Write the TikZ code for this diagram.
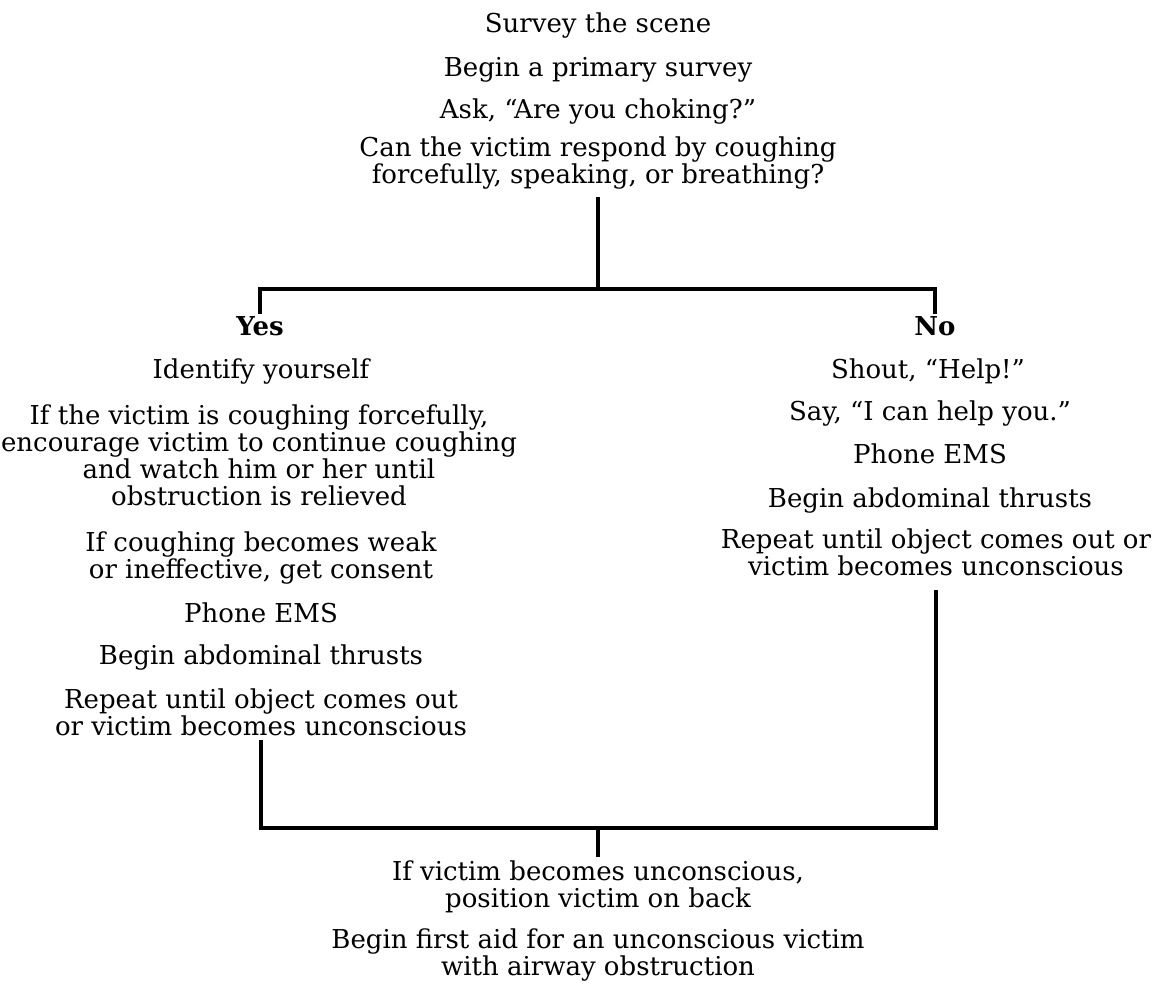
\documentclass[tikz,border=0pt]{standalone}
\usepackage{fontspec}
\setmainfont{DejaVu Serif}
\begin{document}
\begin{tikzpicture}[x=1pt,y=-1pt,
  txt/.style={font=\fontsize{26}{26.8}\selectfont, align=center, inner sep=0pt, anchor=base},
  lbl/.style={txt, font=\fontsize{26}{26.8}\selectfont\bfseries},
  conn/.style={line width=3.2pt, line cap=rect}]
\useasboundingbox (0,0) rectangle (1173,989);
% top (multi-line nodes are placed at the baseline of their last line)
\node[txt] (s1) at (598,32) {Survey the scene};
\node[txt] (s2) at (598,76) {Begin a primary survey};
\node[txt] (s3) at (598,118) {Ask, ``Are you choking?''};
\node[txt] (q)  at (598,183) {Can the victim respond by coughing\\forcefully, speaking, or breathing?};
% yes branch
\node[lbl] (yes) at (260,335) {Yes};
\node[txt] (y1) at (261,378) {Identify yourself};
\node[txt] (y2) at (259,505) {If the victim is coughing forcefully,\\encourage victim to continue coughing\\and watch him or her until\\obstruction is relieved};
\node[txt] (y3) at (261,578) {If coughing becomes weak\\or ineffective, get consent};
\node[txt] (y4) at (261,622) {Phone EMS};
\node[txt] (y5) at (261,664) {Begin abdominal thrusts};
\node[txt] (y6) at (261,735) {Repeat until object comes out\\or victim becomes unconscious};
% no branch
\node[lbl] (no) at (935,335) {No};
\node[txt] (n1) at (928,378) {Shout, ``Help!''};
\node[txt] (n2) at (930,420) {Say, ``I can help you.''};
\node[txt] (n3) at (930,463) {Phone EMS};
\node[txt] (n4) at (930,507) {Begin abdominal thrusts};
\node[txt] (n5) at (936,575) {Repeat until object comes out or\\victim becomes unconscious};
% bottom
\node[txt] (b1) at (598,907) {If victim becomes unconscious,\\position victim on back};
\node[txt] (b2) at (598,975) {Begin first aid for an unconscious victim\\with airway obstruction};
% connectors
\coordinate (split) at (598,289);
\coordinate (merge) at (598,828);
\draw[conn, shorten <=10pt] (q.south) -- (split);
\draw[conn, shorten >=3pt] (split) -| (yes.north);
\draw[conn, shorten >=3pt] (split) -| (no.north);
\draw[conn, shorten <=6pt] (y6.south) |- (merge);
\draw[conn, shorten <=16pt] (n5.south) |- (merge);
\draw[conn, shorten >=5pt] (merge) -- (b1.north);
\end{tikzpicture}
\end{document}
